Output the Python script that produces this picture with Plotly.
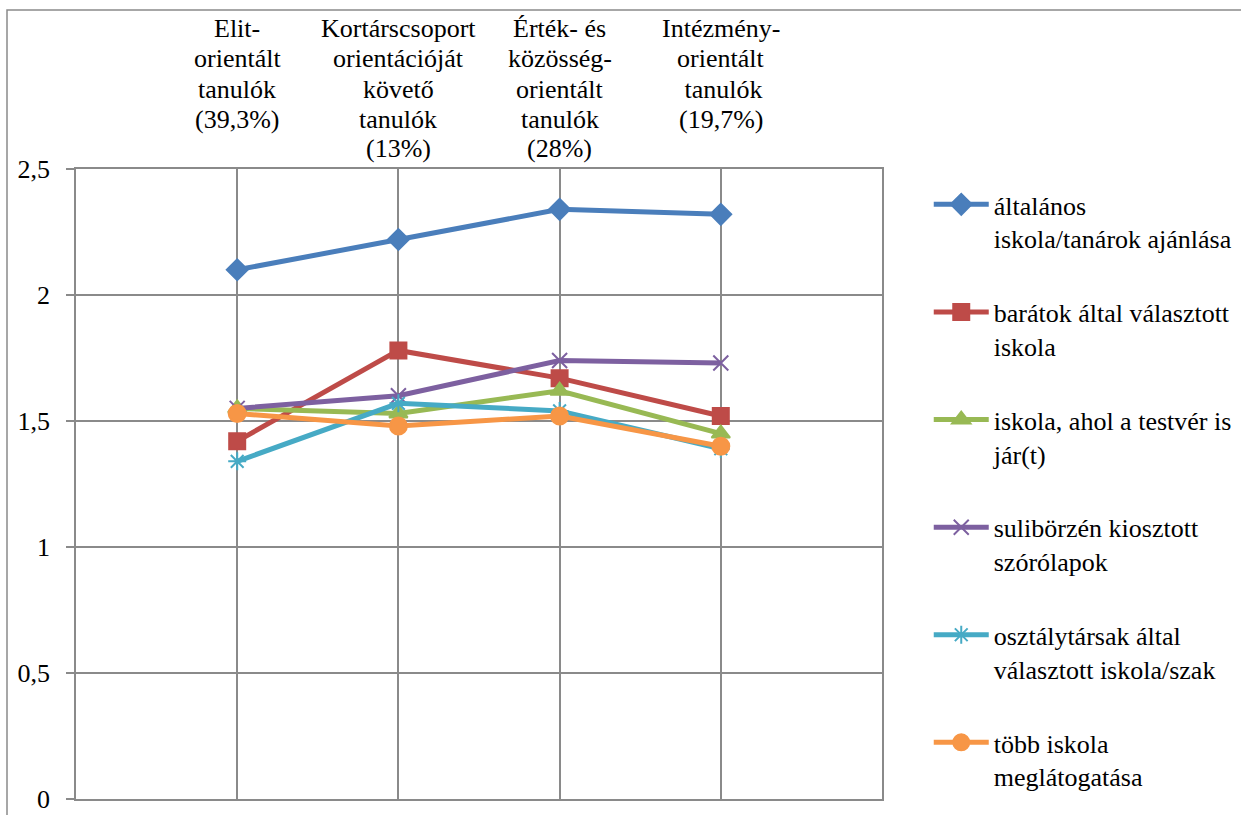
import plotly.graph_objects as go

# Pupil groups (category headers shown above the plot)
categories = [
    ["Elit-", "orientált", "tanulók", "(39,3%)"],
    ["Kortárscsoport", "orientációját", "követő", "tanulók", "(13%)"],
    ["Érték- és", "közösség-", "orientált", "tanulók", "(28%)"],
    ["Intézmény-", "orientált", " tanulók", "(19,7%)"],
]
cat_pos = [1, 2, 3, 4]

series_names = [
    "általános<br>iskola/tanárok ajánlása",
    "barátok által választott<br>iskola",
    "iskola, ahol a testvér is<br>jár(t)",
    "sulibörzén kiosztott<br>szórólapok",
    "osztálytársak által<br>választott iskola/szak",
    "több iskola<br>meglátogatása",
]

altalanos_iskola = [2.10, 2.22, 2.34, 2.32]
baratok = [1.42, 1.78, 1.67, 1.52]
testver = [1.55, 1.53, 1.62, 1.45]
suliborze = [1.55, 1.60, 1.74, 1.73]
osztalytarsak = [1.34, 1.57, 1.54, 1.39]
tobb_iskola = [1.53, 1.48, 1.52, 1.40]

values = [altalanos_iskola, baratok, testver, suliborze, osztalytarsak, tobb_iskola]
colors = ["#4A7EBB", "#BE4B48", "#98B954", "#7D60A0", "#46AAC5", "#F79646"]
symbols = ["diamond", "square", "triangle-up", "x-thin-open", "asterisk-open", "circle"]
sizes = [16, 16, 16, 15, 15, 17]

FONT = "Liberation Serif"
GRID = "#8A8A8A"

fig = go.Figure()
for i, (name, vals) in enumerate(zip(series_names, values)):
    fig.add_trace(go.Scatter(
        x=cat_pos, y=vals, name=name, mode="lines+markers",
        legendgroup=f"g{i}",
        line=dict(color=colors[i], width=5),
        marker=dict(symbol=symbols[i], size=sizes[i], color=colors[i],
                    line=dict(color=colors[i], width=2)),
    ))

# Category headers, one line per annotation to keep Excel-like spacing
H = 630.0  # plot height in px
for xpos, lines in zip(cat_pos, categories):
    for j, txt in enumerate(lines):
        ypix = 29 + 30 * j
        fig.add_annotation(
            x=xpos, xref="x", y=(799 - ypix) / H, yref="paper",
            text=txt, showarrow=False, xanchor="center", yanchor="middle",
            font=dict(family=FONT, size=26, color="#000000"),
        )

# Outer chart frame
fig.add_shape(type="rect", xref="paper", yref="paper",
              x0=(7 - 76) / 806, x1=(1250 - 76) / 806,
              y0=(799 - 830) / H, y1=(799 - 10) / H,
              line=dict(color=GRID, width=1.5), layer="below")

fig.update_layout(
    width=1241, height=815,
    margin=dict(l=76, r=359, t=169, b=16, autoexpand=False),
    paper_bgcolor="white", plot_bgcolor="white",
    separators=", ",
    font=dict(family=FONT, size=26, color="#000000"),
    showlegend=True,
    legend=dict(
        x=1.058, xanchor="left", y=0.981, yanchor="top",
        valign="top", tracegroupgap=37, itemwidth=55,
        font=dict(family=FONT, size=26, color="#000000"),
        bgcolor="rgba(0,0,0,0)",
    ),
)
fig.update_xaxes(
    range=[0, 5], tickvals=cat_pos, showticklabels=False,
    showgrid=True, gridcolor=GRID, gridwidth=1.5,
    showline=True, linecolor=GRID, linewidth=1.5, mirror=True,
    zeroline=False, ticks="",
)
fig.update_yaxes(
    range=[0, 2.5], dtick=0.5, tick0=0,
    showgrid=True, gridcolor=GRID, gridwidth=1.5,
    showline=True, linecolor=GRID, linewidth=1.5, mirror=True,
    zeroline=False, ticks="outside", ticklen=8, tickcolor=GRID, tickwidth=1.5,
    ticklabelstandoff=11,
    tickfont=dict(family=FONT, size=26, color="#000000"),
)

fig.write_html("out.html")
